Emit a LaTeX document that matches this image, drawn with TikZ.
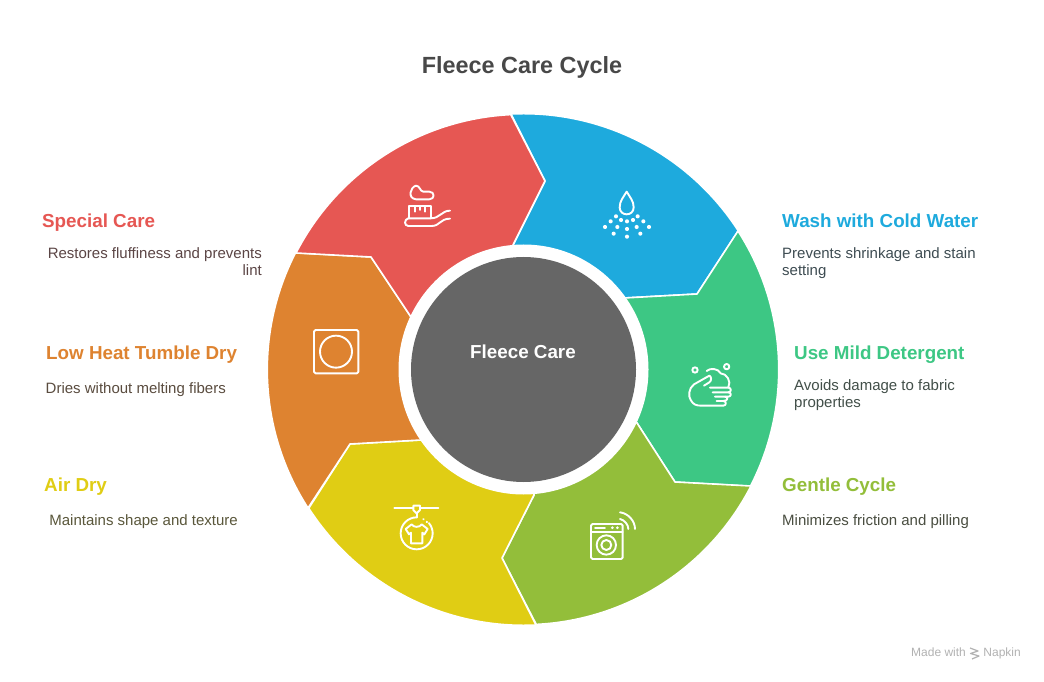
\documentclass[tikz,border=0pt]{standalone}
\usepackage{fontspec}
\setmainfont{Liberation Sans}
\usetikzlibrary{positioning}
\definecolor{cbblue}{RGB}{30, 170, 221}
\definecolor{cbgreen}{RGB}{61, 199, 132}
\definecolor{cbolive}{RGB}{147, 190, 58}
\definecolor{cbyellow}{RGB}{224, 205, 20}
\definecolor{cborange}{RGB}{222, 131, 48}
\definecolor{cbred}{RGB}{230, 87, 83}
\definecolor{cbgray}{RGB}{102, 102, 102}
\definecolor{cbtitle}{RGB}{72, 72, 72}
\definecolor{cbtext}{RGB}{66, 66, 66}
\begin{document}
\begin{tikzpicture}[%
    x=1pt, y=1pt,         % One unit is one pixel of the layout
    node distance=14.5pt, % Global setup of label spacing
    ]
% -------------------------------------------------
% A few styles
\tikzset{
  slice/.style={draw=white, line width=1.6pt, line join=round},
  head/.style={inner sep=0pt, anchor=west, text height=14pt, text depth=4pt, font=\fontsize{18.8}{21}\selectfont\bfseries},
  desc/.style={inner sep=0pt, font=\fontsize{15}{17}\selectfont},
  descl/.style={desc, align=left},
  descr/.style={desc, align=right},
  foot/.style={inner sep=0pt, text=black!30, text height=9pt, text depth=3pt, font=\fontsize{12}{14}\selectfont},
  icon/.style={draw=white, line width=1.9pt, line cap=round, line join=round},
  dot/.style={fill=white},
  iconbox/.style={shift={#1}, x=0.3333pt, y=-0.3333pt}
  }
\useasboundingbox [fill=white] (0,0) rectangle (1044,681);
% -------------------------------------------------
% Corners of the ring, outer rim then notch then inner end
\coordinate (c) at (523.5,311.5);
\coordinate (o1) at (511,567);
\coordinate (o2) at (738,450);
\coordinate (o3) at (751,195);
\coordinate (o4) at (536,56);
\coordinate (o5) at (308,173);
\coordinate (o6) at (296,428);
\coordinate (n1) at (545,500);
\coordinate (n2) at (697,387);
\coordinate (n3) at (675,199);
\coordinate (n4) at (502,123);
\coordinate (n5) at (350,237);
\coordinate (n6) at (371,424);
\coordinate (i1) at (513,436);
\coordinate (i2) at (624,383);
\coordinate (i3) at (637,258);
\coordinate (i4) at (534,186);
\coordinate (i5) at (421,241);
\coordinate (i6) at (411,364);

\draw [slice, fill=cbblue] (o1) arc[start angle=92.8, end angle=32.8, radius=255.5] -- (n2) -- (i2) -- (c) -- (i1) -- (n1) -- cycle;
\draw [slice, fill=cbgreen] (o2) arc[start angle=32.8, end angle=-27.2, radius=255.5] -- (n3) -- (i3) -- (c) -- (i2) -- (n2) -- cycle;
\draw [slice, fill=cbolive] (o3) arc[start angle=-27.2, end angle=-87.2, radius=255.5] -- (n4) -- (i4) -- (c) -- (i3) -- (n3) -- cycle;
\draw [slice, fill=cbyellow] (o4) arc[start angle=-87.2, end angle=-147.2, radius=255.5] -- (n5) -- (i5) -- (c) -- (i4) -- (n4) -- cycle;
\draw [slice, fill=cborange] (o5) arc[start angle=-147.2, end angle=-207.2, radius=255.5] -- (n6) -- (i6) -- (c) -- (i5) -- (n5) -- cycle;
\draw [slice, fill=cbred] (o6) arc[start angle=152.8, end angle=92.8, radius=255.5] -- (n1) -- (i1) -- (c) -- (i6) -- (n6) -- cycle;

\fill [white] (c) circle[radius=125];
\fill [cbgray] (c) circle[radius=112.5];
% -------------------------------------------------
% Texts
\node [inner sep=0pt, text=cbtitle, font=\fontsize{23.4}{28}\selectfont\bfseries] (t0) at (522,614) {Fleece Care Cycle};
\node [inner sep=0pt, text=white, font=\fontsize{18.8}{21}\selectfont\bfseries] (t1) at (523,329) {Fleece Care};

\node [head, text=cbblue] (w1) at (782,458.5) {Wash with Cold Water};
\node [descl, text=cbblue!10!cbtext, below=of w1.south west, anchor=north west] (d1) {\strut Prevents shrinkage and stain\\setting};
\node [head, text=cbgreen] (w2) at (794,326.5) {Use Mild Detergent};
\node [descl, text=cbgreen!10!cbtext, below=of w2.south west, anchor=north west] (d2) {\strut Avoids damage to fabric\\properties};
\node [head, text=cbolive] (w3) at (782,194.5) {Gentle Cycle};
\node [descl, text=cbolive!10!cbtext, below=17.5pt of w3.south west, anchor=north west] (d3) {\strut Minimizes friction and pilling};
\node [head, text=cbyellow] (w4) at (44,194.5) {Air Dry};
\node [descr, text=cbyellow!15!cbtext, below=17.5pt of w4.south west, anchor=north east, xshift=194pt] (d4) {\strut Maintains shape and texture};
\node [head, text=cborange] (w5) at (46,326.5) {Low Heat Tumble Dry};
\node [descr, text=cborange!15!cbtext, below=17.5pt of w5.south west, anchor=north east, xshift=180pt] (d5) {\strut Dries without melting fibers};
\node [head, text=cbred] (w6) at (42,458.5) {Special Care};
\node [descr, text=cbred!15!cbtext, below=of w6.south west, anchor=north east, xshift=220pt] (d6) {\strut Restores fluffiness and prevents\\lint};
% -------------------------------------------------
% Icons, each one in the pixels of its own crop
\begin{scope}[iconbox={(590,501)}]
  \draw [icon] (110,35) .. controls (100,52) and (89,63) .. (89,82) .. controls (89,110) and (131,110) .. (131,82) .. controls (131,63) and (120,52) .. (110,35) -- cycle;
  \foreach \p in {(78,109),(143,109),(62,124),(93,120),(111,124),(129,120),(160,124),(45,141),(82,141),(111,147),(140,141),(177,141),(71,161),(151,161),(111,170)}
    \fill [dot] \p circle[radius=6.2];
\end{scope}
\begin{scope}[iconbox={(390,511)}]
  \draw [icon] (78,47) .. controls (60,52) and (52,85) .. (78,88) -- (118,88) .. controls (135,88) and (135,65) .. (118,65) -- (100,65) .. controls (90,65) and (90,47) .. (78,47) -- cycle;
  \draw [icon] (57,145) -- (57,108) -- (122,108) -- (122,145);
  \draw [icon] (75,108) -- (75,125) (90,108) -- (90,120) (105,108) -- (105,125);
  \draw [icon] (180,122) .. controls (155,122) and (150,145) .. (122,145) -- (55,145) .. controls (42,148) and (42,168) .. (55,168) -- (125,168) .. controls (150,168) and (150,146) .. (180,146);
\end{scope}
\begin{scope}[iconbox={(680,326)}]
  \draw [icon] (45,45) circle[radius=8] (140,35) circle[radius=8];
  \draw [icon] (80,48) .. controls (90,38) and (115,40) .. (122,55) .. controls (140,55) and (155,80) .. (145,97);
  \draw [icon] (88,62) -- (42,88) .. controls (25,100) and (25,125) .. (32,135) .. controls (40,150) and (50,152) .. (65,152) -- (130,152) .. controls (140,152) and (140,138) .. (130,138) -- (110,138);
  \draw [icon] (88,62) .. controls (95,65) and (95,78) .. (88,82) -- (72,92);
  \draw [icon] (90,98) -- (145,98) .. controls (155,98) and (155,112) .. (145,112) -- (98,112);
  \draw [icon] (145,112) .. controls (155,112) and (155,125) .. (145,125) -- (105,125);
  \draw [icon] (135,125) .. controls (145,125) and (145,138) .. (130,138);
\end{scope}
\begin{scope}[iconbox={(580,176)}]
  \draw [icon, rounded corners=1.5pt] (33,57) rectangle (128,162);
  \draw [icon] (33,80) -- (128,80) (45,68) -- (75,68);
  \fill [dot] (97,68) circle[radius=4.5] (112,68) circle[radius=4.5];
  \draw [icon] (79,120) circle[radius=29] (79,120) circle[radius=15];
  \draw [icon] (120,22) .. controls (145,25) and (165,48) .. (165,72);
  \draw [icon] (120,42) .. controls (133,45) and (145,58) .. (145,72);
\end{scope}
\begin{scope}[iconbox={(385,186)}]
  \draw [icon] (28,40) -- (85,40) (105,40) -- (160,40);
  \draw [icon] (85,32) -- (105,32) -- (105,45) -- (95,55) -- (85,45) -- cycle;
  \draw [icon] (95,55) -- (95,67);
  \draw [icon] (95,67) arc[start angle=270, end angle=-40, radius=48];
  \draw [icon] (115,72) -- (116,73) (125,80) -- (126,82);
  \draw [icon] (80,88) -- (62,102) -- (72,118) -- (78,113) -- (78,145) -- (112,145) -- (112,113) -- (118,118) -- (128,102) -- (110,88) .. controls (105,98) and (85,98) .. (80,88) -- cycle;
\end{scope}
\begin{scope}[iconbox={(300,361)}]
  \draw [icon, rounded corners=1.5pt] (42,30) rectangle (175,160);
  \draw [icon] (108,95) circle[radius=48];
\end{scope}
% -------------------------------------------------
% Footer
\node [foot, anchor=west] (f1) at (911,28) {Made with};
\node [foot, anchor=east] (f2) at (1021,28) {Napkin};
\draw [draw=black!30, line width=1.2pt, line join=round] (970,33) -- (978,30) -- (970.5,27.5) -- (979,25) -- (972,22);
\end{tikzpicture}
\end{document}
